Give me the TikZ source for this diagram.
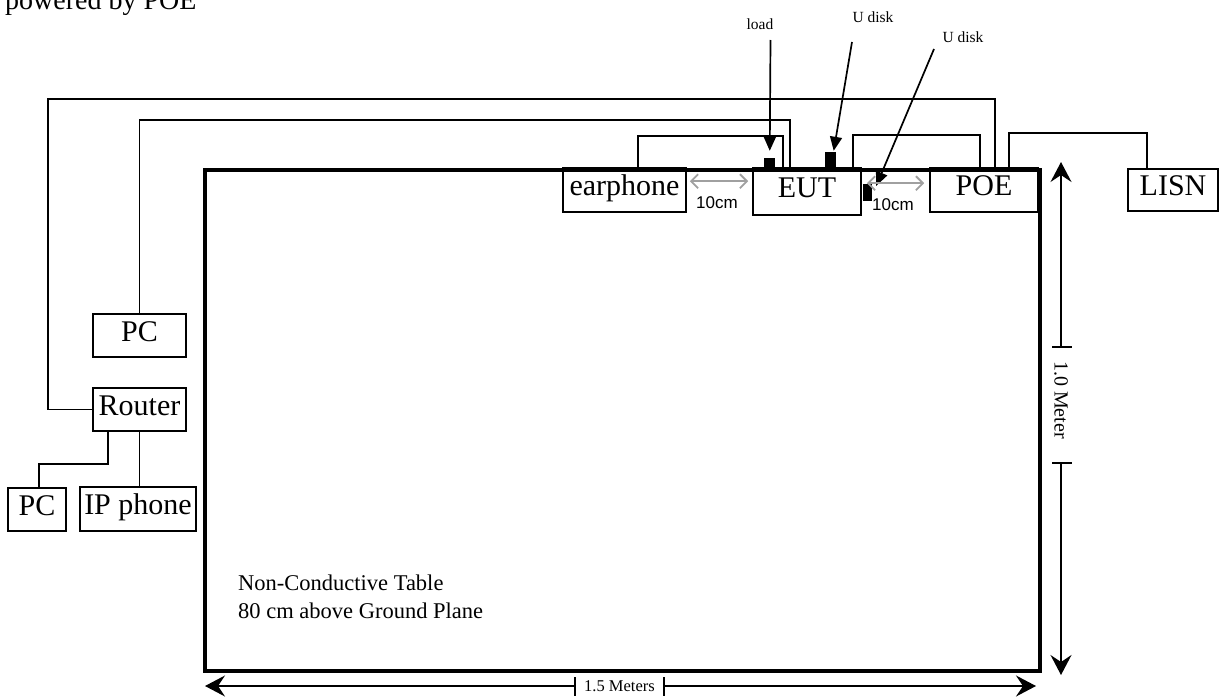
\documentclass[tikz,border=0pt]{standalone}
\usepackage{fontspec}
\setmainfont{Liberation Serif}
\newfontfamily\arialf{Liberation Sans}
\usetikzlibrary{arrows.meta,calc}
\definecolor{arrgray}{RGB}{160,160,160}
\begin{document}
\begin{tikzpicture}[x=1pt,y=-1pt,
  box/.style={draw, line width=1.6pt, inner sep=0pt, text height=21pt, text depth=10pt, font=\fontsize{30}{32}\selectfont},
  cable/.style={line width=1.7pt},
  port/.style={fill=black, draw=none, inner sep=0pt},
  ptr/.style={line width=1.7pt, -{Triangle[length=14pt,width=12pt]}},
  gap/.style={draw=arrgray, line width=1.8pt, {Straight Barb[length=7pt,width=14pt]}-{Straight Barb[length=7pt,width=14pt]}},
  dim/.style={line width=1.5pt, -{Stealth[length=20pt,width=21pt,inset=7pt]}},
  tick/.style={line width=1.5pt},
  small/.style={font=\fontsize{15.5}{17}\selectfont, inner sep=0pt},
  dimlbl/.style={font=\fontsize{16.5}{18}\selectfont, inner sep=0pt},
  cmlbl/.style={font=\arialf\fontsize{17}{19}\selectfont, inner sep=0pt}
]
\useasboundingbox (0,0) rectangle (1220,699);

% title
\node[anchor=base west, inner sep=0pt, font=\fontsize{28}{30}\selectfont] (title) at (5,9) {powered by POE};

% table
\node[draw, line width=3.5pt, minimum width=835pt, minimum height=501pt, anchor=north west, inner sep=0pt] (table) at (203,168) {};
\node[anchor=north west, align=left, inner sep=0pt, font=\fontsize{22.5}{28}\selectfont] (tabletext) at (238,575) {Non-Conductive Table\\80 cm above Ground Plane};

% boxes
\node[box, minimum width=123pt, minimum height=44pt] (earphone) at (624.5,190) {earphone};
\node[box, minimum width=108pt, minimum height=47pt] (eut) at (807,191.5) {EUT};
\node[box, minimum width=108pt, minimum height=44pt] (poe) at (984,190) {POE};
\node[box, minimum width=90pt, minimum height=42pt] (lisn) at (1173,190) {LISN};
\node[box, minimum width=93pt, minimum height=43pt] (pc1) at (139.5,335.5) {PC};
\node[box, minimum width=93pt, minimum height=43pt] (router) at (139.5,409.5) {Router};
\node[box, minimum width=58pt, minimum height=43pt] (pc2) at (37,509.5) {PC};
\node[box, minimum width=116pt, minimum height=44pt] (ipphone) at (138,509) {IP phone};

% cables
\draw[cable] (router.west) -- ++(-44,0) -- ++(0,-310.5) -| ($(poe.north west)+(66,0)$);
\draw[cable] (pc1.north) -- ++(0,-193) -| ($(eut.north west)+(38,0)$);
\draw[cable] ($(earphone.north west)+(76,0)$) -- ++(0,-31) -| ($(eut.north west)+(31,0)$);
\draw[cable] ($(eut.north east)+(-9,0)$) -- ++(0,-32) -| ($(poe.north west)+(51,0)$);
\draw[cable] ($(poe.north west)+(80,0)$) -- ++(0,-34) -| ($(lisn.north west)+(20,0)$);
\draw[cable] ($(router.south west)+(16,0)$) -- ++(0,32) -| ($(pc2.north west)+(32,0)$);
\draw[cable] (router.south) -- (router.south |- ipphone.north);

% ports
\node[port, minimum width=11pt, minimum height=9pt, anchor=south] (lp) at ($(eut.north west)+(17.5,0)$) {};
\node[port, minimum width=11pt, minimum height=15pt, anchor=south] (up1) at ($(eut.north west)+(78.5,0)$) {};
\node[port, minimum width=9pt, minimum height=17pt, anchor=north west] (up2) at ($(eut.north east)+(1,17)$) {};

% port labels and pointers
\node[small] (loadlbl) at (760,24) {load};
\node[small] (ud1lbl) at (873,17) {U disk};
\node[small] (ud2lbl) at (963,37) {U disk};
\coordinate (loadtop) at (770.5,40);
\coordinate (ud1top) at (852,42);
\coordinate (ud2top) at (934,49);
\draw[ptr, shorten >=7pt] (loadtop) -- (lp.north);
\draw[ptr] (ud1top) -- ($(up1.north)+(3,-1)$);
\draw[ptr] (ud2top) -- ($(up2.east)+(4,-7)$);

% 10cm gaps
\draw[gap] ($(earphone.north east)+(3,14)$) -- ($(eut.north west)+(-4,14)$);
\node[cmlbl] (gap1lbl) at (717,203) {10cm};
\draw[gap] ($(eut.north east)+(5,16)$) -- ($(poe.north west)+(-5,16)$);
\node[cmlbl] (gap2lbl) at (893,205) {10cm};

% vertical dimension
\coordinate (vtick1) at (1061,347);
\coordinate (vtick2) at (1061,463);
\coordinate (vtop) at (1061,162);
\coordinate (vbot) at (1061,675);
\draw[dim] (vtick1) -- (vtop);
\draw[dim] (vtick2) -- (vbot);
\draw[tick] ($(vtick1)+(-9,0)$) -- ($(vtick1)+(11,0)$);
\draw[tick] ($(vtick2)+(-9,0)$) -- ($(vtick2)+(11,0)$);
\node[font=\fontsize{20}{22}\selectfont, inner sep=0pt, rotate=-90] (vlbl) at (1061,400) {1.0 Meter};

% horizontal dimension
\coordinate (htick1) at (575,686);
\coordinate (htick2) at (664,686);
\coordinate (hleft) at (205,686);
\coordinate (hright) at (1036,686);
\draw[dim] (htick1) -- (hleft);
\draw[dim] (htick2) -- (hright);
\draw[tick] ($(htick1)+(0,-9)$) -- ($(htick1)+(0,10)$);
\draw[tick] ($(htick2)+(0,-9)$) -- ($(htick2)+(0,10)$);
\node[dimlbl] (hlbl) at (619.5,686) {1.5 Meters};
\end{tikzpicture}
\end{document}
